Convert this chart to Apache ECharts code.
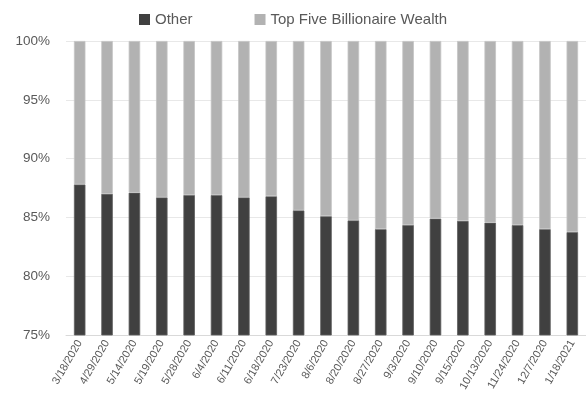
<!DOCTYPE html>
<html>
<head>
<meta charset="utf-8">
<style>
  html, body { margin: 0; padding: 0; background: #ffffff; }
  #chart { width: 586px; height: 400px; }
</style>
<script src="https://cdn.jsdelivr.net/npm/echarts@6/dist/echarts.min.js"></script>
</head>
<body>
<div id="chart"></div>
<script>
// Share of total wealth (percent) by date
const dates = [
  '3/18/2020', '4/29/2020', '5/14/2020', '5/19/2020', '5/28/2020', '6/4/2020',
  '6/11/2020', '6/18/2020', '7/23/2020', '8/6/2020', '8/20/2020', '8/27/2020',
  '9/3/2020', '9/10/2020', '9/15/2020', '10/13/2020', '11/24/2020', '12/7/2020',
  '1/18/2021'
];
const otherShare = [
  87.8, 87.0, 87.1, 86.7, 86.9, 86.9,
  86.7, 86.8, 85.6, 85.1, 84.75, 84.0,
  84.35, 84.9, 84.7, 84.55, 84.35, 84.0,
  83.75
];
const topFiveShare = otherShare.map(v => +(100 - v).toFixed(2));
const yTicks = [75, 80, 85, 90, 95, 100];

const font = '"Liberation Sans", "DejaVu Sans", sans-serif';
const chart = echarts.init(document.getElementById('chart'), null, { renderer: 'canvas' });

chart.setOption({
  animation: false,
  backgroundColor: '#ffffff',
  textStyle: { fontFamily: font },
  legend: {
    top: 7,
    left: 'center',
    itemWidth: 11,
    itemHeight: 11,
    itemGap: 62,
    icon: 'rect',
    itemStyle: { borderWidth: 0 },
    textStyle: { fontSize: 15, color: '#595959', fontFamily: font },
    data: ['Other', 'Top Five Billionaire Wealth']
  },
  grid: { left: 66, right: -2, top: 41, bottom: 65, containLabel: false },
  xAxis: {
    type: 'category',
    data: dates,
    axisLine: { lineStyle: { color: '#d9d9d9', width: 1 } },
    axisTick: { show: false },
    axisLabel: {
      rotate: 60,
      interval: 0,
      fontSize: 11,
      color: '#595959',
      margin: 6,
      fontFamily: font
    }
  },
  yAxis: {
    type: 'value',
    min: yTicks[0],
    max: yTicks[yTicks.length - 1],
    interval: 5,
    axisLine: { show: false },
    axisTick: { show: false },
    splitLine: { lineStyle: { color: '#e8e8e8', width: 1 } },
    axisLabel: {
      formatter: v => v + '%',
      fontSize: 13.5,
      color: '#595959',
      margin: 16,
      fontFamily: font
    }
  },
  series: [
    {
      name: 'Other',
      type: 'bar',
      stack: 'total',
      barWidth: '42%',
      data: otherShare,
      itemStyle: { color: '#404040', borderColor: '#5e5e5e', borderWidth: 0.8 }
    },
    {
      name: 'Top Five Billionaire Wealth',
      type: 'bar',
      stack: 'total',
      barWidth: '42%',
      data: topFiveShare,
      itemStyle: { color: '#b2b2b2', borderColor: '#c4c4c4', borderWidth: 0.8 }
    }
  ]
});
</script>
</body>
</html>
